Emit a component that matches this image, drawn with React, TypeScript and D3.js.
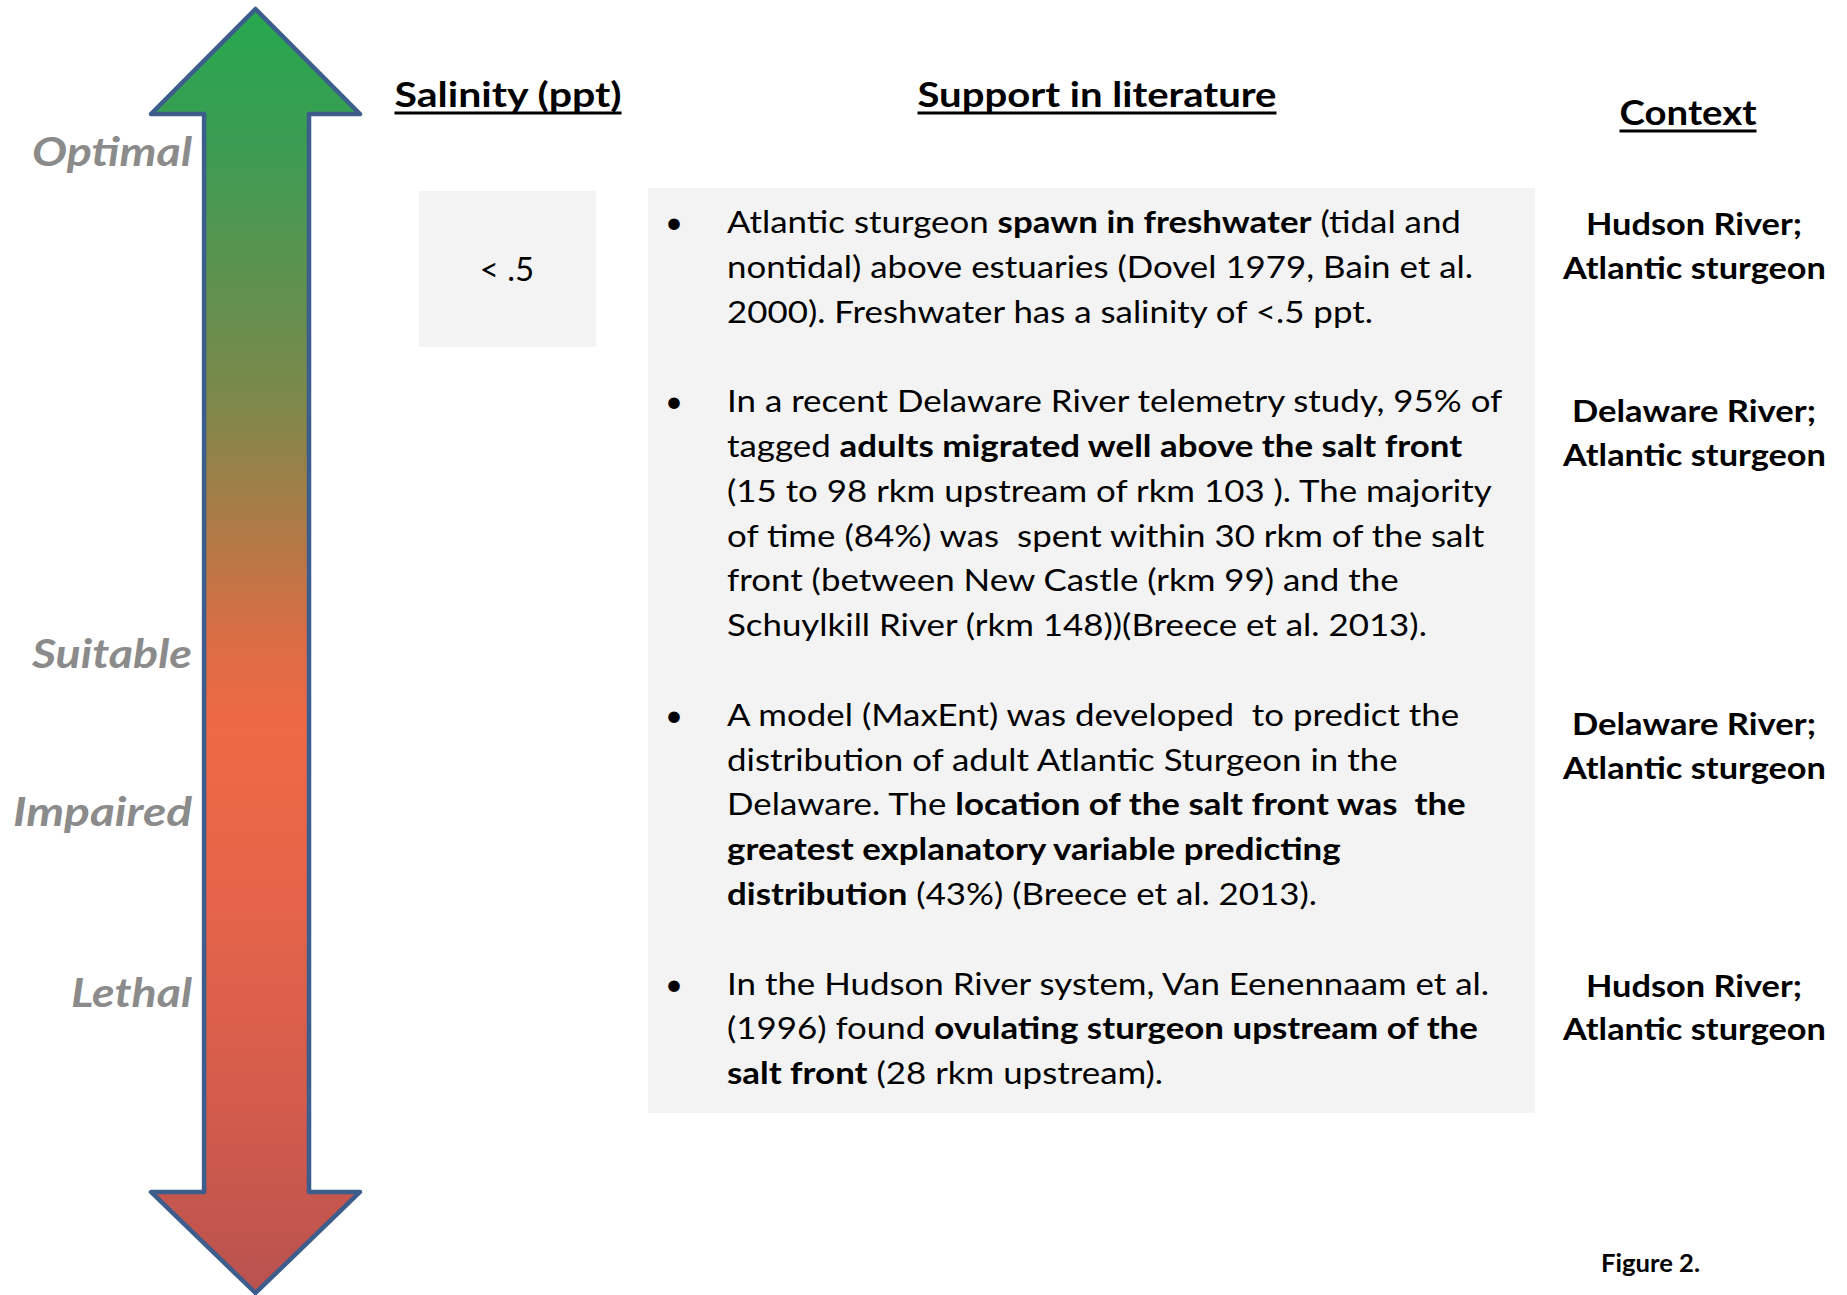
import React, { useLayoutEffect, useRef, useState } from "react";
import * as d3 from "d3";

// ---- content ----
const headers = ["Salinity (ppt)", "Support in literature", "Context"];
const salinityValues = ["< .5"];
const levelLabels = ["Optimal", "Suitable", "Impaired", "Lethal"];
const literature = [
  [
    "Atlantic sturgeon **spawn in freshwater** (tidal and",
    "nontidal) above estuaries (Dovel 1979, Bain et al.",
    "2000). Freshwater has a salinity of <.5 ppt.",
  ],
  [
    "In a recent Delaware River telemetry study, 95% of",
    "tagged **adults migrated well above the salt front**",
    "(15 to 98 rkm upstream of rkm 103 ). The majority",
    "of time (84%) was  spent within 30 rkm of the salt",
    "front (between New Castle (rkm 99) and the",
    "Schuylkill River (rkm 148))(Breece et al. 2013).",
  ],
  [
    "A model (MaxEnt) was developed  to predict the",
    "distribution of adult Atlantic Sturgeon in the",
    "Delaware. The **location of the salt front was  the**",
    "**greatest explanatory variable predicting**",
    "**distribution** (43%) (Breece et al. 2013).",
  ],
  [
    "In the Hudson River system, Van Eenennaam et al.",
    "(1996) found **ovulating sturgeon upstream of the**",
    "**salt front** (28 rkm upstream).",
  ],
];
const contextRiver = ["Hudson River;", "Delaware River;", "Delaware River;", "Hudson River;"];
const contextSpecies = ["Atlantic sturgeon", "Atlantic sturgeon", "Atlantic sturgeon", "Atlantic sturgeon"];
const figureLabel = "Figure 2.";

// ---- layout ----
const W = 1847;
const H = 1295;
const FONT = "Lato, 'Open Sans', sans-serif";
const BODY_X = 727;
const BODY_WIDTH = 734; // width of the first line in the reference
const headerLayout = [
  { cx: 508, y: 107, w: 227 },
  { cx: 1097, y: 107, w: 359 },
  { cx: 1688, y: 125, w: 137 },
];
const labelLayout = [
  { y: 166, w: 160 },
  { y: 668, w: 160 },
  { y: 826, w: 179 },
  { y: 1007, w: 121 },
];
const contextRows = [0.05, 4.22, 11.21, 17.05];
const gradientStops = [
  [0, "#27a84f"],
  [0.1, "#3a9d53"],
  [0.3, "#7b894b"],
  [0.4, "#ad7b46"],
  [0.5, "#df6c45"],
  [0.56, "#ee6944"],
  [0.7, "#e5644a"],
  [0.85, "#d45c4c"],
  [1, "#b9524f"],
];

const rowY = d3.scaleLinear().domain([0, 1]).range([233, 233 + 44.8]);
const arrowY = d3.scaleLinear().domain([0, 1]).range([9, 1293]);
const arrowX = d3.scaleLinear().domain([0, 1]).range([151, 360]);

// arrow outline in unit coordinates
const arrowShape: [number, number][] = [
  [0.5, 0], [1, 0.0818], [0.756, 0.0818], [0.756, 0.9213], [1, 0.9213],
  [0.5, 1], [0, 0.9213], [0.254, 0.9213], [0.254, 0.0818], [0, 0.0818],
];

const runs = (line: string) =>
  line.split("**").map((t, i) => ({ t, bold: i % 2 === 1 })).filter((r) => r.t.length);

export default function App() {
  const firstLine = useRef<SVGTextElement>(null);
  const [k, setK] = useState(1);

  useLayoutEffect(() => {
    const measure = () => {
      if (!firstLine.current) return;
      const w = firstLine.current.getComputedTextLength();
      if (w > 0) setK(BODY_WIDTH / w);
    };
    measure();
    (document as any).fonts?.ready.then(measure);
  }, []);

  const arrowPath = d3
    .line<[number, number]>()
    .x((d) => arrowX(d[0]))
    .y((d) => arrowY(d[1]))
    .curve(d3.curveLinearClosed)(arrowShape) as string;

  let row = 0;
  const paraRows = literature.map((p) => {
    const start = row;
    row += p.length + 1;
    return start;
  });

  return (
    <svg
      width={W}
      height={H}
      viewBox={`0 0 ${W} ${H}`}
      style={{ position: "absolute", left: 0, top: 0, display: "block", background: "#fff" }}
      fontFamily={FONT}
    >
      <defs>
        <linearGradient id="arrowGrad" gradientUnits="userSpaceOnUse" x1={0} x2={0} y1={arrowY(0)} y2={arrowY(1)}>
          {gradientStops.map(([o, c]) => (
            <stop key={o as number} offset={o as number} stopColor={c as string} />
          ))}
        </linearGradient>
      </defs>

      {/* boxes */}
      <rect x={419} y={191} width={177} height={156} fill="#f2f3f2" />
      <rect x={648} y={188} width={887} height={925} fill="#f2f3f2" />

      {/* arrow */}
      <path d={arrowPath} fill="url(#arrowGrad)" stroke="#3d5d8c" strokeWidth={4.5} strokeLinejoin="round" />

      {/* level labels */}
      {levelLabels.map((l, i) => (
        <text
          key={l}
          x={192 - labelLayout[i].w}
          y={labelLayout[i].y}
          fontSize={40}
          fontWeight="bold"
          fontStyle="italic"
          fill="#8b8b8b"
          textLength={labelLayout[i].w}
          lengthAdjust="spacingAndGlyphs"
        >
          {l}
        </text>
      ))}

      {/* headers */}
      {headers.map((h, i) => {
        const L = headerLayout[i];
        return (
          <g key={h}>
            <text
              x={L.cx - L.w / 2}
              y={L.y}
              fontSize={35}
              fontWeight="bold"
              fill="#000"
              textLength={L.w}
              lengthAdjust="spacingAndGlyphs"
            >
              {h}
            </text>
            <line x1={L.cx - L.w / 2} x2={L.cx + L.w / 2} y1={L.y + 6} y2={L.y + 6} stroke="#000" strokeWidth={3} />
          </g>
        );
      })}

      {/* salinity */}
      {salinityValues.map((s) => (
        <text key={s} x={507} y={281} fontSize={33} textAnchor="middle" fill="#000" style={{ whiteSpace: "pre" }}>
          {s}
        </text>
      ))}

      {/* literature bullets */}
      {literature.map((p, pi) => (
        <text key={"b" + pi} x={674} y={rowY(paraRows[pi])} fontSize={31} textAnchor="middle" fill="#000">
          •
        </text>
      ))}
      <g transform={`translate(${BODY_X},0) scale(${k},1)`}>
        {literature.map((p, pi) =>
          p.map((line, li) => (
            <text
              key={pi + "-" + li}
              ref={pi === 0 && li === 0 ? firstLine : undefined}
              x={0}
              y={rowY(paraRows[pi] + li)}
              fontSize={31}
              fill="#000"
              style={{ whiteSpace: "pre" }}
            >
              {runs(line).map((r, ri) => (
                <tspan key={ri} fontWeight={r.bold ? "bold" : "normal"}>
                  {r.t}
                </tspan>
              ))}
            </text>
          ))
        )}
      </g>

      {/* context */}
      {contextRiver.map((c, i) => (
        <g key={"c" + i} fontWeight="bold" fontSize={31} fill="#000">
          <text
            x={1694 - (c.startsWith("Hudson") ? 108 : 122)}
            y={rowY(contextRows[i])}
            textLength={c.startsWith("Hudson") ? 216 : 244}
            lengthAdjust="spacingAndGlyphs"
          >
            {c}
          </text>
          <text x={1694 - 131} y={rowY(contextRows[i] + 0.97)} textLength={263} lengthAdjust="spacingAndGlyphs">
            {contextSpecies[i]}
          </text>
        </g>
      ))}

      <text x={1601} y={1272} fontSize={24} fontWeight="bold" fill="#000" textLength={99} lengthAdjust="spacingAndGlyphs">
        {figureLabel}
      </text>
    </svg>
  );
}
